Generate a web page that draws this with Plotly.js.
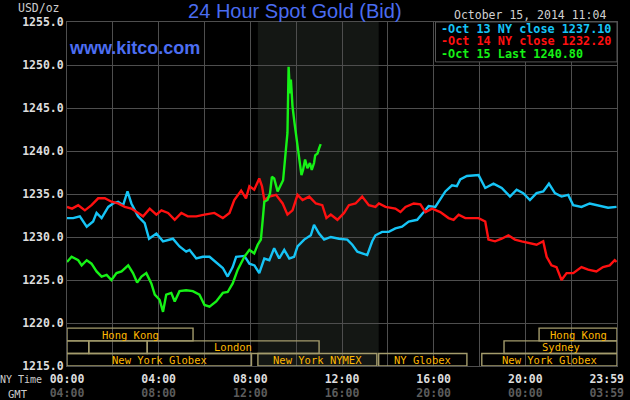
<!DOCTYPE html>
<html>
<head>
<meta charset="utf-8">
<script src="https://cdn.plot.ly/plotly-3.0.1.min.js"></script>
<style>html,body{margin:0;padding:0;background:#000;}#chart{width:630px;height:400px;}</style>
</head>
<body>
<div id="chart"></div>
<script>
// ---- data (hours since 00:00 NY time, price in USD/oz) ----
var oct13Hours = [0.0,0.27,0.56,0.86,1.14,1.29,1.51,1.8,2.01,2.23,2.45,2.64,2.81,3.1,3.39,3.58,3.9,4.19,4.62,4.91,5.2,5.35,5.64,5.93,6.22,6.5,6.8,7.01,7.23,7.38,7.74,7.96,8.18,8.39,8.61,8.83,9.04,9.26,9.48,9.7,9.91,10.06,10.35,10.64,10.78,11.0,11.22,11.51,11.87,12.23,12.45,12.67,12.88,13.1,13.32,13.46,13.75,14.04,14.33,14.62,14.91,15.28,15.57,15.78,16.07,16.51,16.8,17.01,17.16,17.45,17.96,18.25,18.61,18.97,19.33,19.62,19.91,20.2,20.49,20.78,21.03,21.29,21.58,21.87,22.09,22.45,22.81,23.17,23.61,23.98];
var oct13Values = [1232.2,1232.2,1232.4,1231.2,1231.8,1232.8,1232.2,1233.5,1233.9,1234.1,1233.7,1235.3,1233.9,1232.4,1231.6,1229.8,1230.4,1229.5,1229.8,1228.9,1228.3,1228.5,1227.5,1227.7,1227.7,1227.1,1226.4,1225.4,1226.5,1227.7,1227.8,1226.9,1226.7,1225.8,1227.5,1227.3,1228.7,1227.5,1228.5,1227.5,1227.7,1228.9,1229.7,1230.2,1231.4,1230.4,1229.7,1230.0,1229.8,1229.7,1229.1,1228.3,1228.1,1227.9,1229.5,1230.2,1230.6,1230.6,1231.0,1231.2,1231.8,1232.0,1232.9,1233.6,1233.5,1235.3,1236.0,1235.9,1236.7,1237.1,1237.2,1235.7,1236.2,1235.7,1234.7,1235.5,1235.1,1234.3,1235.1,1235.3,1236.2,1235.1,1234.7,1234.9,1233.7,1233.5,1233.9,1233.7,1233.4,1233.5];

var oct14Hours = [0.0,0.22,0.49,0.78,1.07,1.36,1.65,1.94,2.23,2.52,2.81,3.1,3.32,3.61,3.9,4.12,4.41,4.7,4.99,5.27,5.64,6.0,6.43,6.8,7.09,7.3,7.6,7.81,7.96,8.17,8.39,8.51,8.61,8.83,9.12,9.41,9.62,9.84,10.06,10.28,10.57,10.86,11.14,11.32,11.51,11.8,12.09,12.3,12.59,12.88,13.17,13.46,13.61,13.9,14.33,14.55,14.77,15.13,15.42,15.64,15.93,16.29,16.65,16.87,17.09,17.38,17.96,18.25,18.39,18.68,18.97,19.26,19.55,19.84,20.2,20.49,20.78,20.93,21.14,21.36,21.58,21.8,22.09,22.45,22.74,23.1,23.39,23.68,23.9,23.98];
var oct14Values = [1233.5,1233.3,1233.7,1233.1,1233.7,1234.5,1234.5,1234.1,1233.9,1233.5,1233.3,1232.8,1232.4,1233.3,1232.6,1233.1,1232.8,1232.0,1232.8,1232.4,1232.4,1232.6,1232.8,1232.2,1232.8,1234.3,1235.4,1234.5,1235.9,1235.5,1236.8,1235.9,1234.3,1234.7,1234.9,1233.9,1232.6,1233.1,1234.9,1234.3,1234.7,1233.9,1233.7,1232.2,1232.6,1232.0,1232.8,1233.7,1233.9,1234.7,1233.7,1233.5,1233.9,1233.5,1233.3,1232.9,1233.5,1233.9,1233.8,1232.9,1233.3,1232.9,1232.2,1232.0,1232.6,1232.2,1232.2,1231.8,1229.7,1229.5,1229.8,1230.2,1229.7,1229.5,1229.3,1229.1,1229.5,1227.7,1226.7,1226.5,1225.0,1225.8,1225.8,1226.5,1226.2,1226.0,1226.5,1226.7,1227.3,1227.1];

var oct15Hours = [0.0,0.2,0.49,0.64,0.86,1.07,1.29,1.51,1.73,1.94,2.16,2.38,2.67,2.88,3.06,3.25,3.46,3.68,3.83,4.04,4.19,4.33,4.55,4.7,4.91,5.2,5.49,5.78,6.0,6.22,6.51,6.8,7.01,7.23,7.45,7.67,7.74,7.96,8.17,8.32,8.46,8.54,8.61,8.75,8.86,8.94,9.04,9.19,9.33,9.43,9.55,9.62,9.67,9.73,9.77,9.84,9.93,10.03,10.09,10.16,10.23,10.3,10.39,10.49,10.6,10.68,10.78,10.83,10.93,11.0,11.07];
var oct15Values = [1227.1,1227.7,1227.3,1226.7,1227.3,1226.9,1226.0,1225.4,1225.6,1225.0,1225.8,1226.0,1226.7,1225.8,1224.7,1225.4,1225.8,1224.6,1223.3,1222.7,1221.3,1223.3,1223.5,1222.5,1223.7,1223.8,1223.7,1223.3,1222.1,1221.9,1222.5,1223.5,1223.6,1224.6,1226.2,1227.3,1227.7,1228.5,1228.1,1229.1,1229.7,1232.0,1234.1,1234.3,1235.1,1237.0,1236.8,1235.3,1236.0,1236.6,1240.1,1242.1,1249.8,1246.7,1248.3,1245.2,1243.2,1241.3,1239.7,1238.2,1237.2,1237.8,1239.0,1238.0,1238.6,1237.8,1238.6,1239.5,1239.7,1240.3,1240.8];

var seriesNames = ["Oct 13 NY close", "Oct 14 NY close", "Oct 15 Last"];
var seriesLast = ["1237.10", "1232.20", "1240.80"];

var yTickVals = [1215,1220,1225,1230,1235,1240,1245,1250,1255];
var xLabelHours = [0,4,8,12,16,20,23.55];
var nyTimeLabels = ["00:00","04:00","08:00","12:00","16:00","20:00","23:59"];
var gmtLabels = ["04:00","08:00","12:00","16:00","20:00","00:00","03:59"];

var sessionNames = ["Hong Kong","","","London","New York Globex","New York NYMEX","NY Globex","New York Globex","Sydney","Hong Kong"];
var sessionStart = [0,0,0.95,3.5,0,8.33,13.6,18.1,19.07,20.6];
var sessionEnd   = [5.5,0.95,3.5,11.0,8.05,13.52,17.45,24,24,24];
var sessionRow   = [2,1,1,1,0,0,0,0,1,2];

var nymexStart = 8.33, nymexEnd = 13.6;
var titleText = "24 Hour Spot Gold (Bid)";
var dateText = "October 15, 2014 11:04";

// ---- styling ----
var colors = ["#16c4f6", "#ff1010", "#16f216"];
var gridCol = "#4e4e4e";
var rowEdges = [1215, 1216.45, 1217.92, 1219.4];

var traces = [
  {x: oct13Hours, y: oct13Values},
  {x: oct14Hours, y: oct14Values},
  {x: oct15Hours, y: oct15Values}
].map(function(t, i){
  return {x: t.x, y: t.y, type: 'scatter', mode: 'lines', name: seriesNames[i],
    line: {color: colors[i], width: 2.4}, hoverinfo: 'skip', xaxis: 'x', yaxis: 'y'};
});

var gridVals = [], gridText = [];
for (var h = 0; h <= 24; h += 2) { gridVals.push(h); gridText.push(""); }

var xTickText = nyTimeLabels.map(function(t, i){
  return t + "<br><span style='color:#5c5c5c'>" + gmtLabels[i] + "</span>";
});

var shapes = [
  {type:'rect', xref:'x', yref:'paper', x0:nymexStart, x1:nymexEnd, y0:0, y1:1,
   fillcolor:'#141714', line:{width:0}, layer:'below'}
];
var annotations = [];

sessionNames.forEach(function(n, i){
  var r = sessionRow[i];
  shapes.push({type:'rect', xref:'x', yref:'y', x0:sessionStart[i], x1:sessionEnd[i],
    y0:rowEdges[r], y1:rowEdges[r+1], fillcolor:'rgba(0,0,0,0)',
    line:{color:'#a49c6c', width:1.4}, layer:'above'});
  if (n) {
    annotations.push({xref:'x', yref:'y', x:(sessionStart[i]+sessionEnd[i])/2,
      y:(rowEdges[r]+rowEdges[r+1])/2, text:n, showarrow:false,
      xanchor:'center', yanchor:'middle',
      font:{family:'DejaVu Sans Mono', size:10.5, color:'#ffb800'}});
  }
});

// legend box
shapes.push({type:'rect', xref:'paper', yref:'paper', x0:0.67, x1:1, y0:0.884, y1:1,
  fillcolor:'#000000', line:{color:'#555555', width:1}, layer:'above'});
var legY = [0.9797, 0.9448, 0.907];
seriesNames.forEach(function(n, i){
  annotations.push({xref:'paper', yref:'paper', x:0.677, y:legY[i], xanchor:'left', yanchor:'middle',
    text:'-' + n + ' ' + seriesLast[i], showarrow:false,
    font:{family:'DejaVu Sans Mono', size:11.8, color:colors[i], weight:'bold'}});
});

annotations.push(
  {xref:'paper', yref:'paper', x:-0.009, y:1.041, xanchor:'right', yanchor:'middle', text:'USD/oz',
   showarrow:false, font:{family:'DejaVu Sans Mono', size:11.5, color:'#cccccc'}},
  {xref:'paper', yref:'paper', x:0.9836, y:1.021, xanchor:'right', yanchor:'middle', text:dateText,
   showarrow:false, font:{family:'DejaVu Sans Mono', size:11.5, color:'#d0d0d0'}},
  {xref:'paper', yref:'paper', x:0.0, y:0.924, xanchor:'left', yanchor:'middle', text:'www.kitco.com',
   showarrow:false, font:{family:'Liberation Sans', size:18, color:'#4c6ef2', weight:'bold'}},
  {xref:'paper', yref:'paper', x:-0.041, y:-0.038, xanchor:'right', yanchor:'middle', text:'NY Time',
   showarrow:false, font:{family:'DejaVu Sans Mono', size:10, color:'#cccccc'}},
  {xref:'paper', yref:'paper', x:-0.068, y:-0.08, xanchor:'right', yanchor:'middle', text:'GMT',
   showarrow:false, font:{family:'DejaVu Sans Mono', size:10.5, color:'#cccccc'}}
);

var layout = {
  width: 630, height: 400,
  paper_bgcolor: '#000000', plot_bgcolor: '#000000',
  margin: {l: 67, r: 13, t: 22, b: 34, pad: 0},
  showlegend: false,
  title: {text: titleText, x: 0.468, xref: 'container', xanchor: 'center',
          y: 0.972, yref: 'container', yanchor: 'middle',
          font: {family: 'Liberation Sans', size: 20, color: '#4a6cf0'}},
  xaxis: {range: [0, 24], tickmode: 'array', tickvals: gridVals, ticktext: gridText,
          showticklabels: false, showgrid: true, gridcolor: gridCol, gridwidth: 1,
          zeroline: false, showline: true, mirror: true, linecolor: gridCol, ticks: '',
          fixedrange: true},
  xaxis2: {overlaying: 'x', anchor: 'y', side: 'bottom', range: [0, 24], tickmode: 'array',
           tickvals: xLabelHours, ticktext: xTickText, showgrid: false, zeroline: false,
           showline: false, ticks: '', ticklabelstandoff: 4,
           tickfont: {family: 'DejaVu Sans Mono', size: 11.5, color: '#dddddd', weight: 'bold'}},
  yaxis: {range: [1215, 1255], tickmode: 'array', tickvals: yTickVals,
          ticktext: yTickVals.map(function(v){ return v.toFixed(1); }),
          showgrid: true, gridcolor: gridCol, zeroline: false, showline: true, mirror: true,
          linecolor: gridCol, ticks: '',
          tickfont: {family: 'DejaVu Sans Mono', size: 11.5, color: '#dddddd', weight: 'bold'}},
  shapes: shapes,
  annotations: annotations
};

// invisible helper trace so the label axis (xaxis2) is drawn
traces.push({x: [0], y: [1215], xaxis: 'x2', yaxis: 'y', mode: 'markers',
  marker: {opacity: 0}, hoverinfo: 'skip', showlegend: false});

Plotly.newPlot('chart', traces, layout, {displayModeBar: false, staticPlot: true});
</script>
</body>
</html>
